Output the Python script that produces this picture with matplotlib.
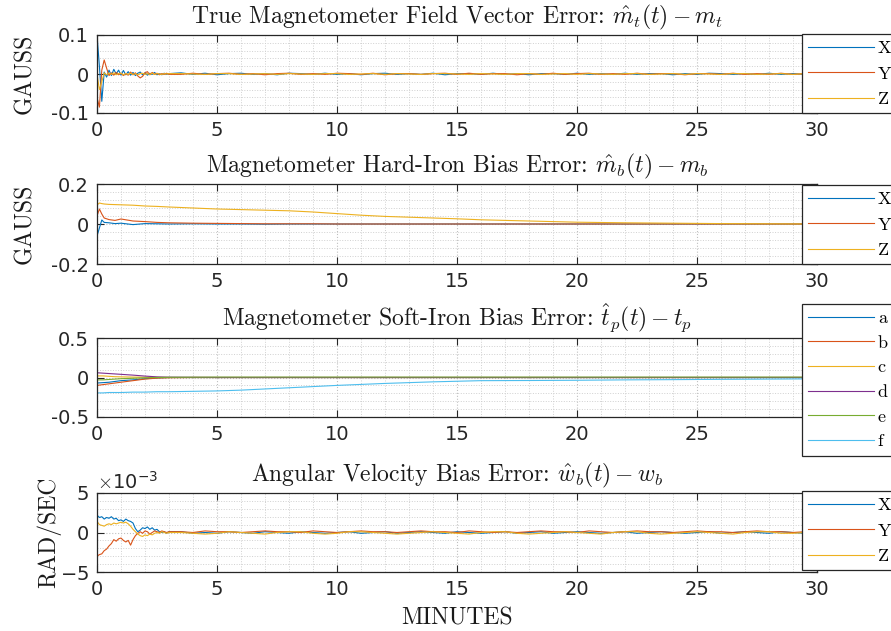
import matplotlib
matplotlib.use('Agg')
from matplotlib import pyplot as plt
from matplotlib.ticker import MultipleLocator, ScalarFormatter

plt.rcParams['mathtext.fontset'] = 'cm'
plt.rcParams['axes.unicode_minus'] = False
plt.rcParams['font.size'] = 14

# MATLAB default line colours
C = ['#0072BD', '#D95319', '#EDB120', '#7E2F8E', '#77AC30', '#4DBEEE']

#### data (minutes)

t_fast = [0.0, 0.1, 0.2, 0.3, 0.4, 0.5, 0.6, 0.7, 0.8, 0.9, 1.0,
          1.1, 1.2, 1.3, 1.4, 1.5, 1.6, 1.7, 1.8, 1.9, 2.0,
          2.1, 2.2, 2.3, 2.4, 2.5, 2.6, 2.7, 2.8, 2.9, 3.0,
          3.5, 4.0, 4.5, 5.0, 5.5, 6.0, 6.5, 7.0, 7.5, 8.0,
          8.5, 9.0, 9.5, 10.0, 10.5, 11.0, 11.5, 12.0, 12.5, 13.0,
          13.5, 14.0, 14.5, 15.0, 15.5, 16.0, 16.5, 17.0, 17.5, 18.0,
          18.5, 19.0, 19.5, 20.0, 20.5, 21.0, 21.5, 22.0, 22.5, 23.0,
          23.5, 24.0, 24.5, 25.0, 25.5, 26.0, 26.5, 27.0, 27.5, 28.0,
          28.5, 29.0, 29.5, 30.0]

# true field vector error (gauss)
mt_x = [0.100, 0.020, -0.070, 0.005, -0.008, 0.010, -0.004, 0.012, 0.000, 0.010, -0.003,
        0.009, -0.002, 0.006, -0.003, 0.004, -0.004, 0.002, 0.005, -0.002, 0.003,
        -0.003, 0.002, -0.001, 0.004, -0.002, 0.001, -0.002, 0.002, -0.001, 0.001,
        0.003, -0.001, 0.002, -0.002, 0.001, 0.002,
        -0.001, 0.001, -0.002, 0.002, 0.001, -0.001,
        0.002, -0.001, 0.001, -0.002, 0.001, 0.002,
        -0.001, 0.001, -0.001, 0.002, -0.002, 0.001,
        0.001, -0.001, 0.002, -0.001, 0.001, -0.002,
        0.001, 0.001, -0.001, 0.002, -0.001, 0.001,
        -0.001, 0.002, -0.001, 0.001, 0.001, -0.002,
        0.001, -0.001, 0.002, 0.001, -0.001, 0.001,
        -0.001, 0.002, -0.001, 0.001, -0.001, 0.001]
mt_y = [-0.060, -0.085, 0.010, 0.036, 0.015, -0.004, 0.003, -0.003, 0.004, -0.002, 0.002,
        -0.004, 0.001, -0.003, 0.005, -0.002, 0.003, -0.005, -0.010, -0.006, 0.003,
        0.006, -0.002, 0.004, -0.001, 0.002, -0.002, 0.001, -0.001, 0.002, -0.001,
        -0.001, 0.002, -0.001, 0.001, 0.002, -0.001,
        0.001, -0.002, 0.001, 0.002, -0.001, 0.001,
        -0.001, 0.002, 0.001, -0.001, 0.002, -0.002,
        0.001, 0.001, -0.001, 0.001, 0.002, -0.001,
        0.002, -0.001, 0.001, 0.001, -0.002, 0.001,
        -0.001, 0.002, -0.001, 0.001, 0.002, -0.001,
        0.001, -0.001, 0.002, -0.001, 0.001, 0.001,
        -0.002, 0.001, 0.001, -0.001, 0.002, -0.001,
        0.001, -0.001, 0.002, -0.001, 0.001, 0.000]
mt_z = [0.000, -0.040, -0.020, 0.003, -0.002, 0.002, -0.001, 0.003, -0.002, 0.001, 0.002,
        -0.002, 0.001, -0.001, 0.002, -0.001, 0.001, -0.002, 0.001, 0.002, -0.001,
        0.001, -0.001, 0.002, -0.001, 0.001, 0.000, -0.001, 0.001, 0.000, 0.001,
        0.001, 0.000, -0.001, 0.001, 0.001, -0.001,
        0.000, 0.001, -0.001, 0.001, 0.000, -0.001,
        0.001, 0.001, -0.001, 0.000, 0.001, -0.001,
        0.001, 0.000, -0.001, 0.001, 0.001, 0.000,
        -0.001, 0.001, 0.000, -0.001, 0.001, 0.001,
        -0.001, 0.000, 0.001, -0.001, 0.001, 0.000,
        -0.001, 0.001, 0.001, -0.001, 0.000, 0.001,
        -0.001, 0.001, 0.000, -0.001, 0.001, 0.001,
        -0.001, 0.000, 0.001, -0.001, 0.001, 0.000]

# angular velocity bias error (1e-3 rad/s)
wb_x = [2.2, 1.9, 2.0, 1.7, 1.9, 1.8, 2.0, 1.7, 1.8, 1.5, 1.6,
        1.4, 1.7, 1.5, 1.4, 1.2, 0.5, 0.1, 0.3, 0.6, 0.5,
        0.7, 0.4, 0.6, 0.3, 0.4, 0.1, 0.0, 0.1, -0.1, 0.1,
        0.1, -0.1, 0.0, -0.1, 0.1, 0.0,
        -0.1, 0.1, 0.0, -0.1, 0.1, 0.0,
        -0.1, 0.0, 0.1, -0.1, 0.0, 0.1,
        -0.1, 0.0, 0.1, 0.0, -0.1, 0.1,
        0.0, -0.1, 0.0, 0.1, -0.1, 0.0,
        0.1, -0.1, 0.0, 0.1, 0.0, -0.1,
        0.0, 0.1, -0.1, 0.0, 0.1, 0.0,
        -0.1, 0.0, 0.1, -0.1, 0.0, 0.1,
        0.0, -0.1, 0.1, 0.0, -0.1, 0.0]
wb_y = [-3.0, -2.8, -2.7, -2.3, -2.1, -1.7, -1.4, -0.9, -1.1, -0.8, -0.7,
        -1.0, -1.2, -1.0, -1.6, -0.9, -0.4, -0.1, 0.1, -0.1, 0.2,
        0.1, -0.2, 0.0, 0.2, 0.1, 0.0, 0.2, 0.1, 0.0, 0.1,
        0.1, 0.0, 0.2, 0.1, 0.1, 0.0,
        0.1, 0.2, 0.1, 0.1, 0.0, 0.2,
        0.1, 0.0, 0.1, 0.2, 0.1, 0.1,
        0.0, 0.1, 0.2, 0.1, 0.1, 0.0,
        0.2, 0.1, 0.0, 0.1, 0.0, 0.1,
        0.2, 0.1, 0.1, 0.0, 0.2, 0.1,
        0.0, 0.1, 0.2, 0.1, 0.1, 0.0,
        0.1, 0.2, 0.1, 0.1, 0.0, 0.1,
        0.2, 0.1, 0.1, 0.0, 0.1, 0.1]
wb_z = [1.4, 1.0, 0.9, 0.8, 1.0, 1.1, 1.0, 1.2, 1.1, 1.2, 1.3,
        1.2, 1.3, 1.1, 0.8, 0.4, 0.1, -0.2, -0.4, -0.5, -0.3,
        -0.4, -0.2, -0.3, -0.1, 0.0, -0.1, 0.1, 0.0, -0.1, 0.0,
        0.0, -0.1, -0.2, -0.1, 0.1, 0.0,
        -0.1, -0.2, 0.0, 0.1, 0.1, -0.1,
        -0.2, -0.1, 0.1, 0.1, 0.0, -0.1,
        -0.2, -0.1, 0.0, 0.1, 0.0, -0.1,
        -0.2, 0.0, 0.1, 0.1, -0.1, -0.2,
        -0.1, 0.0, 0.1, 0.0, -0.1, -0.2,
        0.0, 0.1, 0.1, -0.1, -0.2, -0.1,
        0.0, 0.1, 0.0, -0.1, -0.2, 0.0,
        0.1, 0.1, -0.1, -0.1, 0.0, 0.1]

# hard-iron bias error (gauss)
t_hard = [0, 0.1, 0.2, 0.3, 0.5, 0.75, 1, 1.5, 2, 2.5, 3, 4, 5, 6, 7, 8, 9, 10,
          11, 12, 13, 14, 15, 16, 17, 18, 19, 20, 22, 24, 26, 28, 30]
mb_x = [-0.060, -0.020, 0.020, 0.008, 0.006, 0.002, 0.004, -0.003, 0.002, 0.001, 0.000,
        0.001, 0.000, 0.000, -0.001, 0.000, 0.000, 0.000, 0.000, 0.000, 0.000,
        0.000, 0.000, 0.000, 0.000, 0.000, 0.000, 0.000, 0.000, 0.000, 0.000,
        0.000, 0.000]
mb_y = [0.040, 0.075, 0.050, 0.030, 0.022, 0.018, 0.025, 0.015, 0.012, 0.008, 0.006,
        0.004, 0.003, 0.002, 0.001, 0.001, 0.001, 0.000, 0.000, 0.000, 0.000,
        0.000, 0.000, 0.000, 0.000, 0.000, 0.000, 0.000, 0.000, 0.000, 0.000,
        0.000, 0.000]
mb_z = [0.095, 0.105, 0.102, 0.100, 0.098, 0.097, 0.096, 0.094, 0.090, 0.088, 0.085,
        0.080, 0.075, 0.072, 0.069, 0.066, 0.060, 0.052, 0.044, 0.038, 0.034,
        0.030, 0.026, 0.021, 0.018, 0.015, 0.012, 0.009, 0.006, 0.004, 0.002,
        0.001, 0.000]

# soft-iron bias error
t_soft = [0, 0.25, 0.5, 0.75, 1, 1.5, 2, 2.5, 3, 4, 5, 6, 8, 10, 12, 14, 16, 18,
          20, 22, 24, 26, 28, 30]
tp_a = [-0.07, -0.065, -0.06, -0.05, -0.04, -0.03, -0.015, -0.005, 0.0] + [0.0] * 15
tp_b = [-0.10, -0.09, -0.08, -0.07, -0.06, -0.04, -0.02, -0.008, -0.003, 0.0] + [0.0] * 14
tp_c = [0.02, 0.02, 0.015, 0.01, 0.008, 0.005, 0.003, 0.001] + [0.0] * 16
tp_d = [0.06, 0.055, 0.05, 0.045, 0.04, 0.03, 0.018, 0.008, 0.004, 0.002] + [0.0] * 14
tp_e = [-0.03, -0.03, -0.025, -0.02, -0.015, -0.01, -0.004, 0.0, 0.003, 0.004] + [0.005] * 14
tp_f = [-0.195, -0.195, -0.19, -0.19, -0.19, -0.185, -0.185, -0.18, -0.18, -0.175,
        -0.17, -0.16, -0.13, -0.10, -0.075, -0.055, -0.04, -0.038, -0.035, -0.03,
        -0.027, -0.023, -0.02, -0.017]

####

W, H = 891., 631.
fig = plt.figure(figsize=(W / 100, H / 100), dpi=100)

SERIF = 'cmr10'
EDGE = '#262626'
TXT = '#1a1a1a'


def make_ax(top, bot):
    ax = fig.add_axes([97 / W, 1 - bot / H, 720 / W, (bot - top) / H])
    ax.set_xlim(0, 30)
    ax.xaxis.set_major_locator(MultipleLocator(5))
    ax.xaxis.set_minor_locator(MultipleLocator(1))
    ax.grid(which='major', ls=':', color='#c0c0c0', lw=0.8)
    ax.grid(which='minor', ls=':', color='#d0d0d0', lw=0.7)
    ax.tick_params(which='major', direction='in', top=True, right=True,
                   length=5, width=0.8, color=EDGE, labelcolor=EDGE,
                   labelsize=14, pad=6)
    ax.tick_params(which='minor', length=0)
    for s in ax.spines.values():
        s.set_color(EDGE)
        s.set_linewidth(0.9)
    ax.set_axisbelow(True)
    return ax


def add_legend(ax, labels, top, spacing=0.55):
    leg = ax.legend(labels, loc='upper left',
                    bbox_to_anchor=(802 / W, 1 - top / H),
                    bbox_transform=fig.transFigure, borderaxespad=0,
                    prop={'family': SERIF, 'size': 13}, fancybox=False,
                    framealpha=1, edgecolor=EDGE, handlelength=3.65,
                    handletextpad=0.2, borderpad=0.35, labelspacing=spacing)
    leg.get_frame().set_linewidth(0.9)
    return leg


def title(ax, s):
    ax.set_title(s, family=SERIF, fontsize=17, pad=8.5, color=TXT)


def ylab(ax, s, xpix):
    # xpix: right edge of the rotated label, in figure pixels
    ax.set_ylabel(s, family=SERIF, fontsize=17, color=TXT)
    ax.yaxis.set_label_coords((xpix - 97) / 720, 0.5)


lw = 0.8

# panel 1
ax1 = make_ax(35, 113)
ax1.plot(t_fast, mt_x, c=C[0], lw=lw)
ax1.plot(t_fast, mt_y, c=C[1], lw=lw)
ax1.plot(t_fast, mt_z, c=C[2], lw=lw)
ax1.set_ylim(-0.1, 0.1)
ax1.set_yticks([-0.1, 0, 0.1])
ax1.set_yticklabels(['-0.1', '0', '0.1'])
ax1.yaxis.set_minor_locator(MultipleLocator(0.02))
ylab(ax1, 'GAUSS', 36)
title(ax1, r'True Magnetometer Field Vector Error: $\hat{m}_t(t)-m_t$')
add_legend(ax1, ['X', 'Y', 'Z'], 34)

# panel 2
ax2 = make_ax(184, 264)
ax2.plot(t_hard, mb_x, c=C[0], lw=lw)
ax2.plot(t_hard, mb_y, c=C[1], lw=lw)
ax2.plot(t_hard, mb_z, c=C[2], lw=lw)
ax2.set_ylim(-0.2, 0.2)
ax2.set_yticks([-0.2, 0, 0.2])
ax2.set_yticklabels(['-0.2', '0', '0.2'])
ax2.yaxis.set_minor_locator(MultipleLocator(0.04))
ylab(ax2, 'GAUSS', 36)
title(ax2, r'Magnetometer Hard-Iron Bias Error: $\hat{m}_b(t)-m_b$')
add_legend(ax2, ['X', 'Y', 'Z'], 185)

# panel 3
ax3 = make_ax(338, 417)
for i, y in enumerate([tp_a, tp_b, tp_c, tp_d, tp_e, tp_f]):
    ax3.plot(t_soft, y, c=C[i], lw=lw)
ax3.set_ylim(-0.5, 0.5)
ax3.set_yticks([-0.5, 0, 0.5])
ax3.set_yticklabels(['-0.5', '0', '0.5'])
ax3.yaxis.set_minor_locator(MultipleLocator(0.1))
title(ax3, r'Magnetometer Soft-Iron Bias Error: $\hat{t}_p(t)-t_p$')
add_legend(ax3, ['a', 'b', 'c', 'd', 'e', 'f'], 304, spacing=0.5)

# panel 4
ax4 = make_ax(493, 572)
ax4.plot(t_fast, [v * 1e-3 for v in wb_x], c=C[0], lw=lw)
ax4.plot(t_fast, [v * 1e-3 for v in wb_y], c=C[1], lw=lw)
ax4.plot(t_fast, [v * 1e-3 for v in wb_z], c=C[2], lw=lw)
ax4.set_ylim(-5e-3, 5e-3)
ax4.set_yticks([-5e-3, 0, 5e-3])
fmt = ScalarFormatter(useMathText=True)
fmt.set_powerlimits((0, 0))
ax4.yaxis.set_major_formatter(fmt)
ax4.yaxis.get_offset_text().set_fontsize(14)
ax4.yaxis.get_offset_text().set_color(EDGE)
ax4.yaxis.set_minor_locator(MultipleLocator(1e-3))
ylab(ax4, 'RAD/SEC', 61)
ax4.set_xlabel('MINUTES', family=SERIF, fontsize=17, labelpad=6, color=TXT)
title(ax4, r'Angular Velocity Bias Error: $\hat{w}_b(t)-w_b$')
add_legend(ax4, ['X', 'Y', 'Z'], 491)

fig.savefig('out.png', dpi=100)
